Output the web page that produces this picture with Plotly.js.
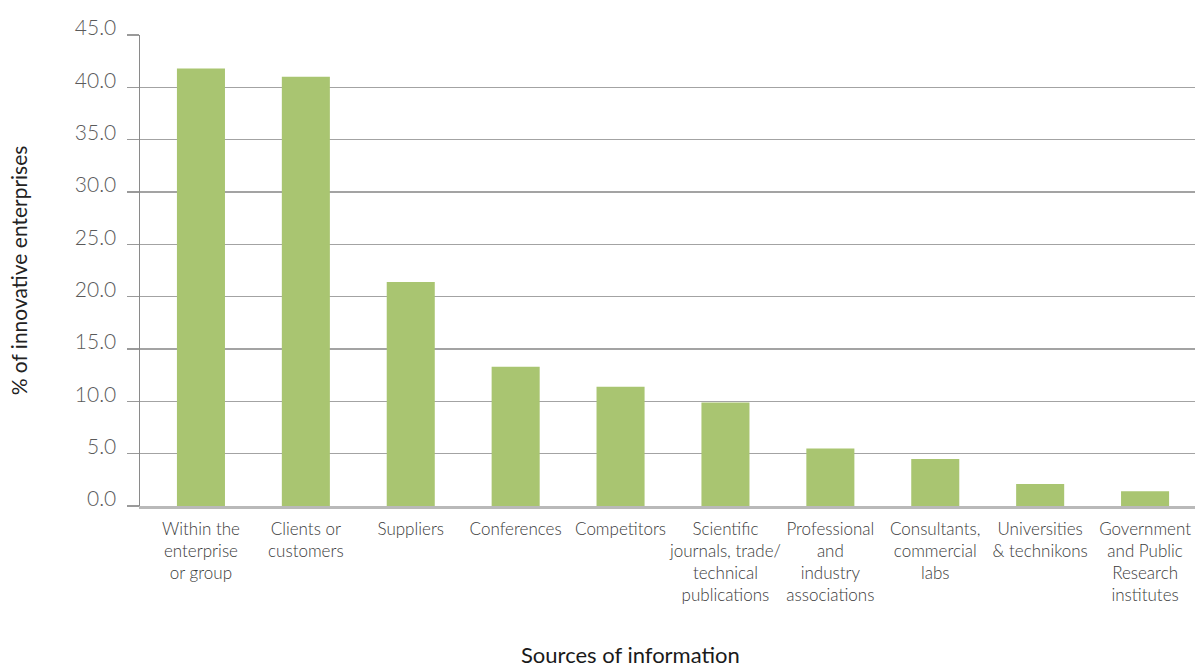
<!DOCTYPE html>
<html>
<head>
<meta charset="utf-8">
<script src="https://cdn.plot.ly/plotly-3.0.1.min.js"></script>
<style>
  html, body { margin: 0; padding: 0; background: #fff; }
  #chart { width: 1195px; height: 669px; }
</style>
</head>
<body>
<div id="chart"></div>
<script>
// Sources of information used by innovative enterprises (% of enterprises)
const categories = [
  "Within the enterprise or group",
  "Clients or customers",
  "Suppliers",
  "Conferences",
  "Competitors",
  "Scientific journals, trade/technical publications",
  "Professional and industry associations",
  "Consultants, commercial labs",
  "Universities & technikons",
  "Government and Public Research institutes"
];
const shares = [41.8, 41.0, 21.4, 13.3, 11.4, 9.9, 5.5, 4.5, 2.1, 1.4];
const tickLabels = [
  "Within the<br>enterprise<br>or group",
  "Clients or<br>customers",
  "Suppliers",
  "Conferences",
  "Competitors",
  "Scientific<br>journals, trade/<br>technical<br>publications",
  "Professional<br>and<br>industry<br>associations",
  "Consultants,<br>commercial<br>labs",
  "Universities<br>& technikons",
  "Government<br>and Public<br>Research<br>institutes"
];
const yTicks = [0, 5, 10, 15, 20, 25, 30, 35, 40, 45];
const yTickLabels = ["0.0", "5.0", "10.0", "15.0", "20.0", "25.0", "30.0", "35.0", "40.0", "45.0"];

const FONT = "Lato, 'Open Sans', sans-serif";

const trace = {
  type: "bar",
  x: categories,
  y: shares,
  marker: { color: "#a9c571", line: { width: 0 } },
  hoverinfo: "skip"
};

const layout = {
  width: 1195,
  height: 669,
  margin: { l: 140, r: 0, t: 35, b: 163 },
  paper_bgcolor: "#ffffff",
  plot_bgcolor: "#ffffff",
  showlegend: false,
  bargap: 0.542,
  font: { family: FONT, color: "#404040" },
  xaxis: {
    type: "category",
    range: [-0.581, 9.476],
    tickvals: categories,
    ticktext: tickLabels,
    tickangle: 0,
    tickfont: { family: FONT, size: 17, color: "#3a3a3a", weight: 300 },
    ticks: "",
    ticklabelstandoff: 6,
    showgrid: false,
    zeroline: false,
    showline: true,
    linecolor: "#b9b9b9",
    linewidth: 2.5,
    automargin: false,
    fixedrange: true
  },
  yaxis: {
    range: [0, 45],
    tickvals: yTicks,
    ticktext: yTickLabels,
    tickfont: { family: FONT, size: 21, color: "#5a5a5a", weight: 300 },
    ticks: "outside",
    ticklen: 12,
    tickcolor: "#9a9a9a",
    tickwidth: 1.5,
    ticklabelshift: -7,
    ticklabelstandoff: 6,
    showgrid: true,
    gridcolor: "#a3a3a3",
    gridwidth: 1.5,
    zeroline: false,
    showline: true,
    linecolor: "#8a8a8a",
    linewidth: 1.5,
    automargin: false,
    title: {
      text: "% of innovative enterprises",
      font: { family: FONT, size: 21, color: "#222222" },
      standoff: 41
    },
    fixedrange: true
  },
  annotations: [{
    text: "Sources of information",
    xref: "paper",
    yref: "paper",
    x: (630 - 140) / 1055,
    y: -(654 - 506) / 471,
    xanchor: "center",
    yanchor: "middle",
    showarrow: false,
    font: { family: FONT, size: 22, color: "#1a1a1a" }
  }]
};

Plotly.newPlot("chart", [trace], layout, { displayModeBar: false, staticPlot: true });
</script>
</body>
</html>
